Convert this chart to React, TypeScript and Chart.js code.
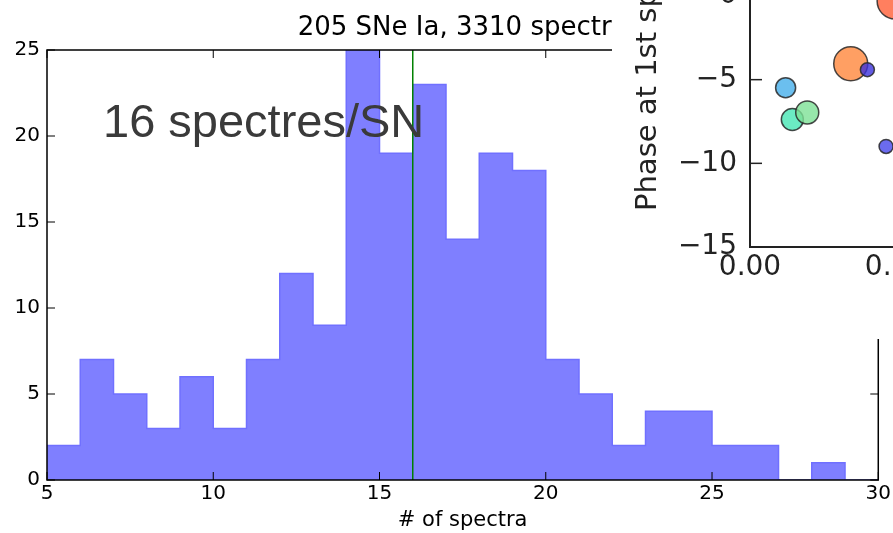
import React, { useEffect, useRef } from "react";
import { Chart, registerables } from "chart.js";

Chart.register(...registerables);

// ---- Histogram data ----
const binStarts = [5, 6, 7, 8, 9, 10, 11, 12, 13, 14, 15, 16, 17, 18, 19, 20, 21, 22, 23, 24, 25, 26, 27, 28, 29];
const counts = [2, 7, 5, 3, 6, 3, 7, 12, 9, 31, 19, 23, 14, 19, 18, 7, 5, 2, 4, 4, 2, 2, 0, 1, 0];
const binWidth = 1;
const meanSpectra = 16;
const xMin = 5;
const xMax = 30;
const yMin = 0;
const yMax = 25;
const tickStep = 5;

const titleText = "205 SNe Ia, 3310 spectra";
const annotationText = "16 spectres/SN";
const xTitle = "# of spectra";

// ---- Inset scatter data ----
const insetRedshift = [0.0122, 0.0145, 0.0196, 0.0345, 0.0402, 0.0466, 0.0497];
const insetPhase = [-5.48, -7.38, -6.96, -4.05, -4.4, -8.99, -0.3];
const insetSize = [10, 11, 11.5, 17, 7, 7, 18];
const insetColors = [
  "rgba(70,175,235,0.8)",
  "rgba(70,230,180,0.8)",
  "rgba(125,225,150,0.8)",
  "rgba(255,135,60,0.8)",
  "rgba(60,50,220,0.8)",
  "rgba(70,70,235,0.8)",
  "rgba(255,95,55,0.8)",
];
const insetYTitle = "Phase at 1st spectrum";
const insetXMin = 0;
const insetXMax = 0.1;
const insetXStep = 0.05;
const insetYMin = -15;
const insetYMax = 0;
const insetYStep = 5;

const MPL = "'DejaVu Sans', sans-serif";

const mainFrame = {
  id: "mainFrame",
  afterDraw(chart: any) {
    const { ctx, chartArea: a, scales } = chart;
    ctx.save();
    ctx.strokeStyle = "#000";
    ctx.lineWidth = 1.5;
    ctx.strokeRect(a.left, a.top, a.right - a.left, a.bottom - a.top);
    ctx.lineWidth = 1;
    const tl = 8;
    scales.x.ticks.forEach((t: any) => {
      const px = scales.x.getPixelForValue(t.value);
      ctx.beginPath();
      ctx.moveTo(px, a.bottom);
      ctx.lineTo(px, a.bottom - tl);
      ctx.moveTo(px, a.top);
      ctx.lineTo(px, a.top + tl);
      ctx.stroke();
    });
    scales.y.ticks.forEach((t: any) => {
      const py = scales.y.getPixelForValue(t.value);
      ctx.beginPath();
      ctx.moveTo(a.left, py);
      ctx.lineTo(a.left + tl, py);
      ctx.moveTo(a.right, py);
      ctx.lineTo(a.right - tl, py);
      ctx.stroke();
    });
    // title
    ctx.fillStyle = "#000";
    ctx.font = `26px ${MPL}`;
    ctx.textAlign = "center";
    ctx.textBaseline = "alphabetic";
    ctx.fillText(titleText, (a.left + a.right) / 2, 35);
    // annotation
    ctx.fillStyle = "#3a3a3a";
    ctx.font = "47px 'Liberation Sans', Arial, sans-serif";
    ctx.textAlign = "left";
    ctx.fillText(annotationText, 103, 137);
    ctx.restore();
  },
};

const insetFrame = {
  id: "insetFrame",
  afterDraw(chart: any) {
    const { ctx, chartArea: a, scales } = chart;
    ctx.save();
    ctx.strokeStyle = "#222";
    ctx.lineWidth = 2;
    ctx.strokeRect(a.left, a.top, a.right - a.left, a.bottom - a.top);
    const tl = 12;
    ctx.lineWidth = 1.5;
    scales.x.ticks.forEach((t: any) => {
      const px = scales.x.getPixelForValue(t.value);
      ctx.beginPath();
      ctx.moveTo(px, a.bottom);
      ctx.lineTo(px, a.bottom - tl);
      ctx.stroke();
    });
    scales.y.ticks.forEach((t: any) => {
      const py = scales.y.getPixelForValue(t.value);
      ctx.beginPath();
      ctx.moveTo(a.left, py);
      ctx.lineTo(a.left + tl, py);
      ctx.stroke();
    });
    // y title (rotated)
    ctx.fillStyle = "#222";
    ctx.font = `29px ${MPL}`;
    ctx.translate(44, 251);
    ctx.rotate(-Math.PI / 2);
    ctx.textAlign = "left";
    ctx.textBaseline = "alphabetic";
    ctx.fillText(insetYTitle, 0, 0);
    ctx.restore();
  },
};

export default function App() {
  const mainRef = useRef<HTMLCanvasElement>(null);
  const insetRef = useRef<HTMLCanvasElement>(null);

  useEffect(() => {
    const histData = binStarts.map((x, i) => ({ x, y: counts[i] }));
    histData.push({ x: binStarts[binStarts.length - 1] + binWidth, y: 0 });

    const main = new Chart(mainRef.current!, {
      type: "line",
      data: {
        datasets: [
          {
            data: histData,
            stepped: "before",
            fill: "origin",
            backgroundColor: "rgba(0,0,255,0.5)",
            borderColor: "#7070ff",
            borderWidth: 1.5,
            pointRadius: 0,
            clip: 0,
            order: 1,
          } as any,
          {
            data: [
              { x: meanSpectra, y: yMin },
              { x: meanSpectra, y: yMax },
            ],
            borderColor: "#008000",
            borderWidth: 1.5,
            pointRadius: 0,
            fill: false,
            order: 0,
          },
        ],
      },
      options: {
        responsive: false,
        animation: false,
        devicePixelRatio: 1,
        layout: { padding: { top: 50, right: 14, left: 0, bottom: 0 } },
        plugins: { legend: { display: false }, tooltip: { enabled: false } },
        scales: {
          x: {
            type: "linear",
            min: xMin,
            max: xMax,
            ticks: {
              stepSize: tickStep,
              font: { family: MPL, size: 20 },
              color: "#000",
              padding: 2,
              maxRotation: 0,
              autoSkip: false,
            },
            grid: { display: false, drawTicks: false },
            border: { display: false },
            title: {
              display: true,
              text: xTitle,
              font: { family: MPL, size: 21 },
              color: "#000",
              padding: 0,
            },
            afterFit: (s: any) => {
              s.height = 53;
            },
          },
          y: {
            type: "linear",
            min: yMin,
            max: yMax,
            ticks: {
              stepSize: tickStep,
              font: { family: MPL, size: 20 },
              color: "#000",
              padding: 7,
            },
            grid: { display: false, drawTicks: false },
            border: { display: false },
            afterFit: (s: any) => {
              s.width = 47;
            },
          },
        },
      },
      plugins: [mainFrame],
    });

    const inset = new Chart(insetRef.current!, {
      type: "bubble",
      data: {
        datasets: [
          {
            data: insetRedshift.map((x, i) => ({ x, y: insetPhase[i], r: insetSize[i] })),
            backgroundColor: insetColors,
            borderColor: "rgba(40,40,40,0.85)",
            borderWidth: 1.5,
            clip: false,
          } as any,
        ],
      },
      options: {
        responsive: false,
        animation: false,
        devicePixelRatio: 1,
        layout: { padding: { top: 36, right: 50, left: 0, bottom: 0 } },
        plugins: { legend: { display: false }, tooltip: { enabled: false } },
        scales: {
          x: {
            type: "linear",
            min: insetXMin,
            max: insetXMax,
            ticks: {
              stepSize: insetXStep,
              font: { family: MPL, size: 28 },
              color: "#222",
              padding: 4,
              maxRotation: 0,
              autoSkip: false,
              callback: (v: any) => Number(v).toFixed(2),
            },
            grid: { display: false, drawTicks: false },
            border: { display: false },
            afterFit: (s: any) => {
              s.height = 43;
            },
          },
          y: {
            type: "linear",
            min: insetYMin,
            max: insetYMax,
            ticks: {
              stepSize: insetYStep,
              font: { family: MPL, size: 28 },
              color: "#222",
              padding: 13,
              callback: (v: any) => String(v).replace("-", "\u2212"),
            },
            grid: { display: false, drawTicks: false },
            border: { display: false },
            afterFit: (s: any) => {
              s.width = 138;
            },
          },
        },
      },
      plugins: [insetFrame],
    });

    return () => {
      main.destroy();
      inset.destroy();
    };
  }, []);

  return (
    <div
      style={{
        position: "fixed",
        left: 0,
        top: 0,
        width: 893,
        height: 533,
        background: "#fff",
        overflow: "hidden",
      }}
    >
      <canvas
        ref={mainRef}
        width={893}
        height={533}
        style={{ position: "absolute", left: 0, top: 0, width: 893, height: 533 }}
      />
      <div
        style={{
          position: "absolute",
          left: 612,
          top: 0,
          width: 281,
          height: 339,
          overflow: "hidden",
          background: "#fff",
        }}
      >
        <canvas
          ref={insetRef}
          width={480}
          height={330}
          style={{ position: "absolute", left: 0, top: -40, width: 480, height: 330 }}
        />
      </div>
    </div>
  );
}
